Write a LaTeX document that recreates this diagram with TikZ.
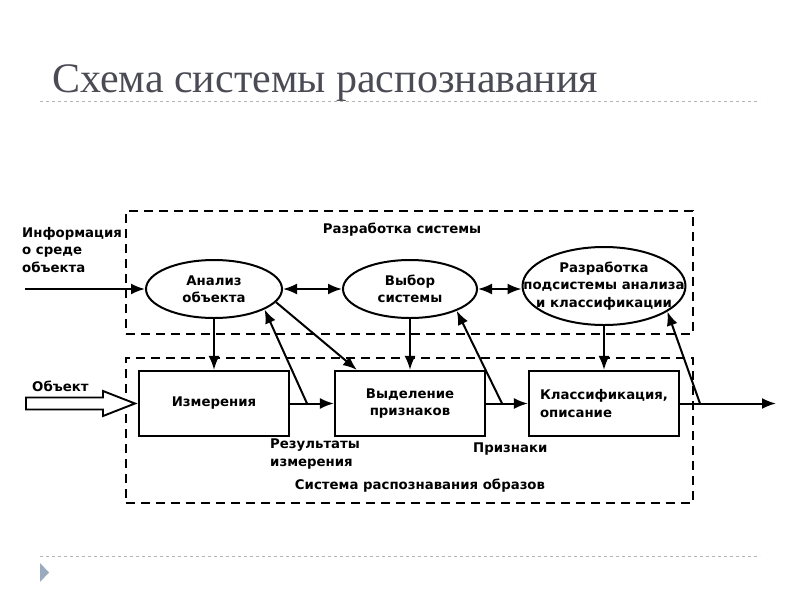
\documentclass[tikz,border=0pt]{standalone}
\usepackage{fontspec}
\setmainfont{Liberation Serif}
\newfontfamily\diagfont{DejaVu Sans}
\usetikzlibrary{shapes.geometric,arrows.meta}

\definecolor{titlegray}{HTML}{4B4B55}
\definecolor{rulegray}{HTML}{B4B4B4}
\definecolor{bulletblue}{HTML}{9AABBF}

\tikzset{
  box/.style={draw, line width=2.2pt, minimum width=150pt, minimum height=65pt, inner sep=0pt, align=center},
  oval/.style={ellipse, draw, line width=2pt, inner sep=0pt, align=center},
  frame/.style={draw, dash pattern=on 9pt off 6pt, line width=1.9pt},
  flow/.style={-{Latex[length=14pt,width=11pt]}, line width=2pt},
  both/.style={{Latex[length=14pt,width=11pt]}-{Latex[length=14pt,width=11pt]}, line width=2pt},
  txt/.style={font=\diagfont\bfseries\fontsize{13.3}{17.5}\selectfont, align=center},
  rule/.style={rulegray, dashed, line width=0.8pt}
}

\begin{document}
\begin{tikzpicture}[x=1pt, y=-1pt]
\useasboundingbox (0,0) rectangle (800,600);

%% title and rulers
\node[anchor=base west, inner sep=0pt, text=titlegray, font=\fontsize{42}{46}\selectfont] (title) at (52,92) {Схема системы распознавания};
\draw[rule] (40,101) -- (760,101);
\draw[rule] (40,556) -- (760,556);
\fill[bulletblue] (40,563) -- (49,572.5) -- (40,582) -- cycle;

%% dashed frames
\node[frame, minimum width=567pt, minimum height=123pt] (devframe) at (409.5,272.5) {};
\node[frame, minimum width=567pt, minimum height=145pt] (recframe) at (409.5,430.5) {};
\node[txt, anchor=base] (devlabel) at (402,233) {Разработка системы};
\node[txt, anchor=base] (reclabel) at (420,489) {Система распознавания образов};

%% upper level: ellipses
\node[oval, minimum width=136pt, minimum height=58pt, txt] (analysis) at (214,289) {Анализ\\объекта};
\node[oval, minimum width=134pt, minimum height=58pt, txt] (choice) at (410,289) {Выбор\\системы};
\node[oval, minimum width=163pt, minimum height=78pt] (design) at (604,286) {};
\node[txt, inner sep=0pt] (designtext) at (design) {Разработка\\подсистемы анализа\\и классификации};

%% lower level: boxes
\node[box, txt] (measure) at (214,403.5) {Измерения};
\node[box, txt] (features) at (410,403.5) {Выделение\\признаков};
\node[box, txt, align=left] (classify) at (604,403.5) {Классификация,\\описание};

%% inputs
\coordinate (infoin) at (25,289);
\node[txt, align=left, anchor=north west, inner sep=0pt] (info) at (22,227) {Информация\\о среде\\объекта};
\draw[flow] (infoin) -- (analysis.west);
\node[txt, anchor=base west, inner sep=0pt] (objlabel) at (32,391) {Объект};
\draw[line width=1.9pt, fill=white] (26,397.5) -- (103,397.5) -- (103,391) -- (135,403.5) -- (103,416) -- (103,409.5) -- (26,409.5) -- cycle;

%% links between ellipses
\draw[both] (analysis) -- (choice);
\draw[both] (choice.east) -- (choice.east -| design.west);
\draw[flow] (analysis) -- (measure);
\draw[flow] (choice) -- (features);
\draw[flow] (design) -- (classify);
\draw[flow] (analysis.-12) -- ([xshift=23pt]features.north west);

%% main flow with feedback
\coordinate (restap) at (307,403.5);
\coordinate (feattap) at (502,403.5);
\coordinate (outtap) at (700,403.5);
\coordinate (out) at (776,403.5);
\draw[flow] (measure) -- (features);
\draw[flow] (features) -- (classify);
\draw[flow] (classify) -- (out);
\draw[flow] (restap) -- (analysis.-22);
\draw[flow] (feattap) -- (choice.-25);
\draw[flow] (outtap) -- (design.-22);

\node[txt, align=left, anchor=north west, inner sep=0pt] (reslabel) at (270,439) {Результаты\\измерения};
\node[txt, anchor=base west, inner sep=0pt] (featlabel) at (473,452) {Признаки};

\end{tikzpicture}
\end{document}
